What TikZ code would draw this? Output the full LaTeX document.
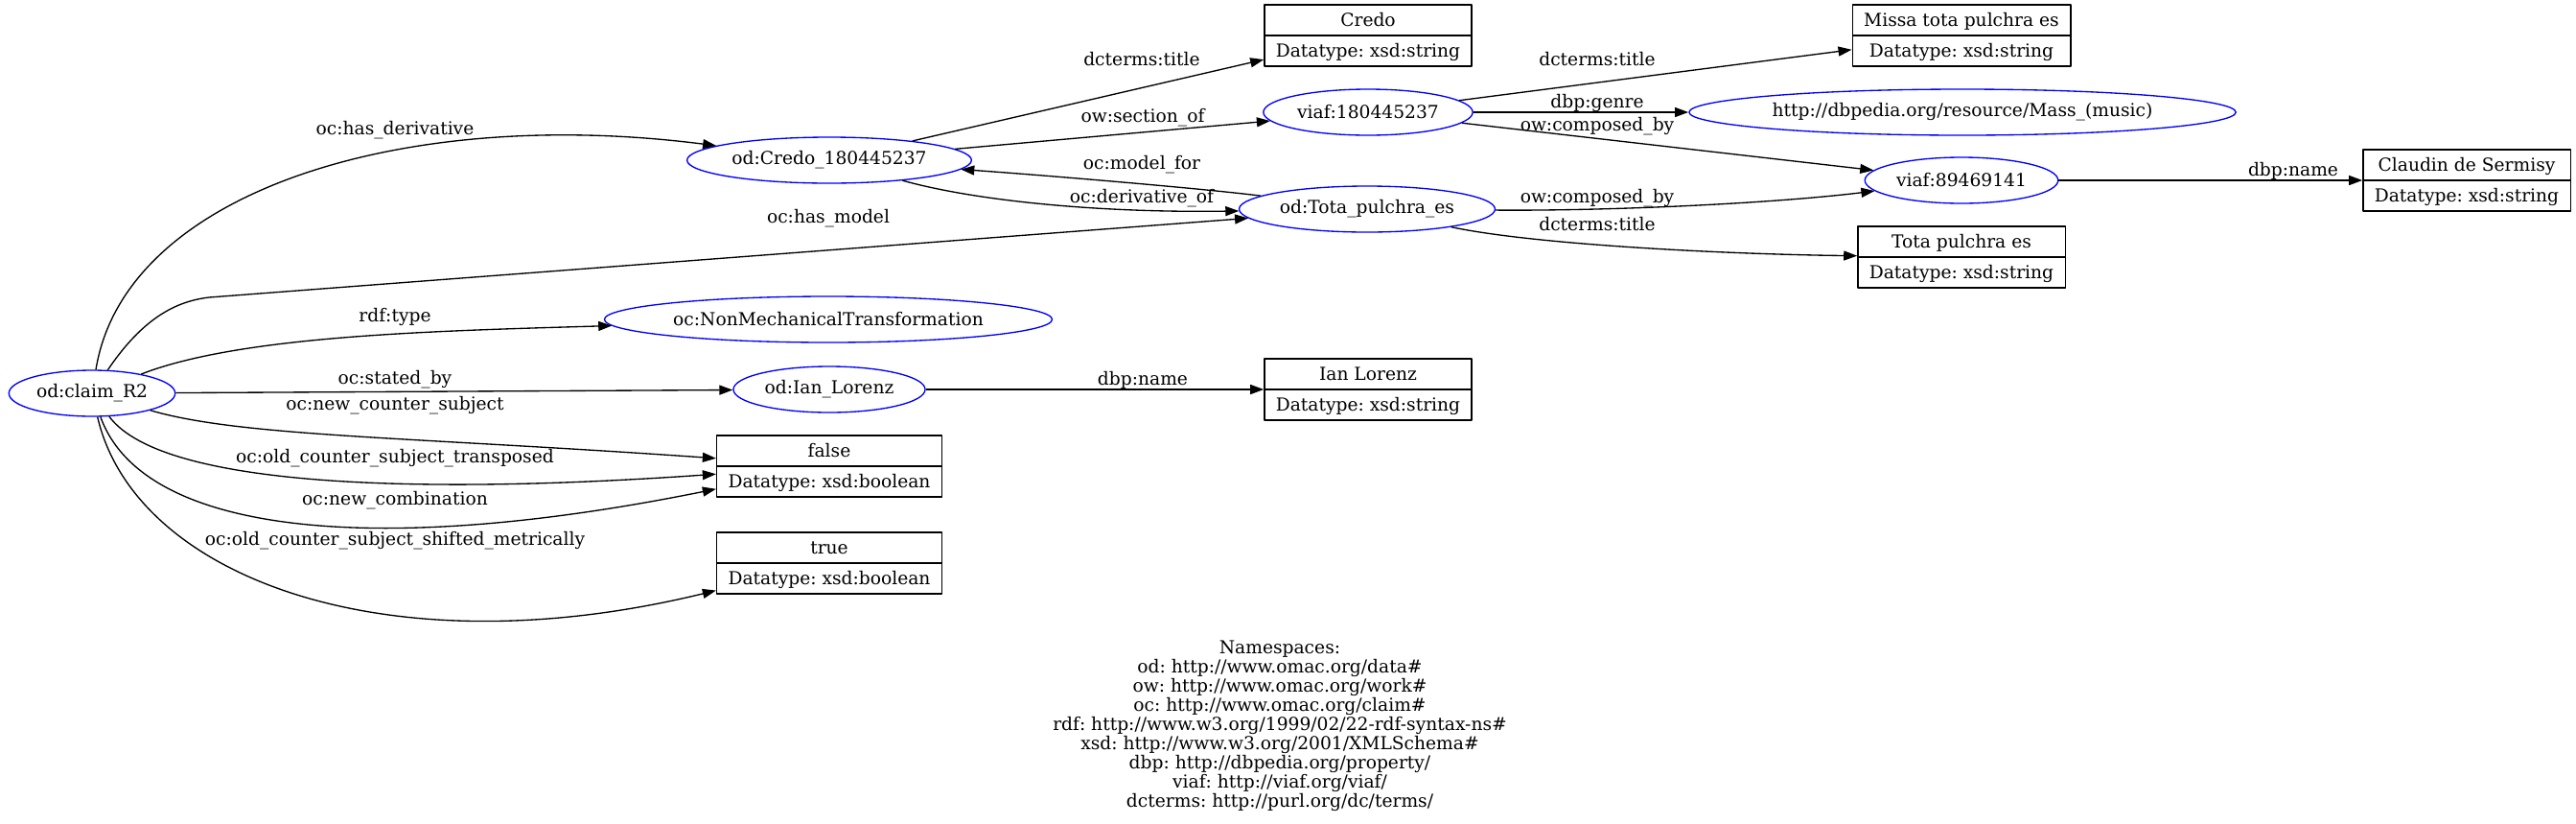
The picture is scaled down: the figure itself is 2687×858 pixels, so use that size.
\documentclass[tikz,border=0pt]{standalone}
\usepackage{fontspec}
\setmainfont{DejaVu Serif}
\usetikzlibrary{shapes.geometric,shapes.multipart,arrows.meta}

\tikzset{
	res/.style={draw=blue, ellipse, inner xsep=2.5pt, inner ysep=0pt, minimum height=36pt},
	lit/.style={draw, rectangle split, rectangle split parts=2, inner xsep=9pt, inner ysep=0pt},
	lbl/.style={inner sep=0pt},
}
\newcommand{\sq}{\rule[-6.5pt]{0pt}{23pt}}
\newcommand{\litnode}[4]{\node[lit] (#1) at (#2) {\sq #3\nodepart{two}\sq Datatype: xsd:#4};}

\begin{document}
\begin{tikzpicture}[x=0.75pt, y=-0.75pt, >={Triangle[length=10.5pt,width=7.5pt]}, line width=1pt, line join=round, font=\fontsize{14pt}{15pt}\selectfont\frenchspacing]
	\useasboundingbox (0,0) rectangle (2687,858);
	% resources
	\node[res] (claim) at (96,410) {od:claim\_R2};
	\node[res] (credo) at (865,167) {od:Credo\_180445237};
	\node[res] (viafA) at (1427,117) {viaf:180445237};
	\node[res] (mass) at (2047,117) {http://dbpedia.org/resource/Mass\_(music)};
	\node[res] (viafB) at (2046,188) {viaf:89469141};
	\node[res] (tota) at (1426,218) {od:Tota\_pulchra\_es};
	\node[res] (nonmech) at (864,333) {oc:NonMechanicalTransformation};
	\node[res] (ian) at (865,406) {od:Ian\_Lorenz};
	% literals
	\litnode{credoLit}{1427,37}{Credo}{string}
	\litnode{missaLit}{2046,37}{Missa tota pulchra es}{string}
	\litnode{claudinLit}{2573,188}{Claudin de Sermisy}{string}
	\litnode{totaLit}{2046,268}{Tota pulchra es}{string}
	\litnode{ianLit}{1427,406}{Ian Lorenz}{string}
	\litnode{litFalse}{865,486}{false}{boolean}
	\litnode{litTrue}{865,587}{true}{boolean}
	% edges from the claim
	\coordinate (hm) at (218,310);
	\draw[->] (claim) .. controls (130,200) and (420,110) .. (credo);
	\draw[->] (claim) .. controls (150,330) and (185,314) .. (hm) -- (tota);
	\draw[->] (claim) .. controls (250,350) and (450,345) .. (nonmech);
	\draw[->] (claim) -- (ian);
	\draw[->] (claim) .. controls (250,455) and (420,455) .. (litFalse);
	\draw[->] (claim) .. controls (170,510) and (450,515) .. (litFalse);
	\draw[->] (claim) .. controls (150,560) and (400,580) .. (litFalse);
	\draw[->] (claim) .. controls (140,600) and (400,700) .. (litTrue);
	\node[lbl] (tHasDeriv) at (412,136) {oc:has\_derivative};
	\node[lbl] (tHasModel) at (864,228) {oc:has\_model};
	\node[lbl] (tType) at (412,330) {rdf:type};
	\node[lbl] (tStated) at (412,396) {oc:stated\_by};
	\node[lbl] (tNewCS) at (412,423) {oc:new\_counter\_subject};
	\node[lbl] (tTransp) at (412,478) {oc:old\_counter\_subject\_transposed};
	\node[lbl] (tNewComb) at (412,522) {oc:new\_combination};
	\node[lbl] (tShifted) at (412,564) {oc:old\_counter\_subject\_shifted\_metrically};
	% edges between the works
	\draw[->] (credo) -- (credoLit);
	\draw[->] (credo) -- (viafA);
	\draw[->] (tota) .. controls (1250,196) and (1080,182) .. (credo);
	\draw[->] (credo) .. controls (1020,210) and (1150,222) .. (tota);
	\draw[->] (viafA) -- (missaLit);
	\draw[->] (viafA) -- (mass);
	\draw[->] (viafA) -- (viafB);
	\draw[->] (tota) .. controls (1680,220) and (1850,212) .. (viafB);
	\draw[->] (tota) .. controls (1600,255) and (1800,265) .. (totaLit);
	\draw[->] (viafB) -- (claudinLit);
	\draw[->] (ian) -- (ianLit);
	\node[lbl] (tTitleA) at (1191,62) {dcterms:title};
	\node[lbl] (tSection) at (1192,123) {ow:section\_of};
	\node[lbl] (tModelFor) at (1191,172) {oc:model\_for};
	\node[lbl] (tDerivOf) at (1191,207) {oc:derivative\_of};
	\node[lbl] (tTitleB) at (1666,62) {dcterms:title};
	\node[lbl] (tGenre) at (1666,107) {dbp:genre};
	\node[lbl] (tCompA) at (1666,132) {ow:composed\_by};
	\node[lbl] (tCompB) at (1666,207) {ow:composed\_by};
	\node[lbl] (tTitleC) at (1666,234) {dcterms:title};
	\node[lbl] (tNameA) at (2392,178) {dbp:name};
	\node[lbl] (tNameB) at (1192,396) {dbp:name};
	% namespaces
	\node[align=center] (ns) at (1335,757) {Namespaces:\\od: http://www.omac.org/data\#\\ow: http://www.omac.org/work\#\\oc: http://www.omac.org/claim\#\\rdf: http://www.w3.org/1999/02/22-rdf-syntax-ns\#\\xsd: http://www.w3.org/2001/XMLSchema\#\\dbp: http://dbpedia.org/property/\\viaf: http://viaf.org/viaf/\\dcterms: http://purl.org/dc/terms/};
\end{tikzpicture}
\end{document}
